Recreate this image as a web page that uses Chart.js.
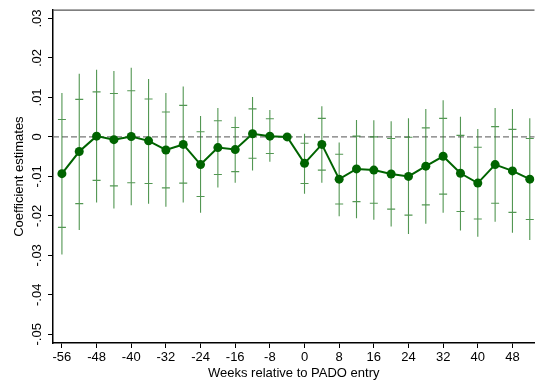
<!DOCTYPE html>
<html>
<head>
<meta charset="utf-8">
<script src="https://cdn.jsdelivr.net/npm/chart.js@4/dist/chart.umd.min.js"></script>
<style>
  html, body { margin: 0; padding: 0; background: #fff; }
  #wrap { width: 539px; height: 388px; }
</style>
</head>
<body>
<div id="wrap"><canvas id="coefChart"></canvas></div>
<script>
// --- data ---
const weeks = [-56, -52, -48, -44, -40, -36, -32, -28, -24, -20, -16, -12, -8, -4,
               0, 4, 8, 12, 16, 20, 24, 28, 32, 36, 40, 44, 48, 52];
const coef  = [-0.0093, -0.0037, 0.0002, -0.0007, 0.0001, -0.001, -0.0033, -0.0019, -0.007, -0.0027,
               -0.0032, 0.0008, 0.0002, 0, -0.0067, -0.0019, -0.0107, -0.0081, -0.0084, -0.0094,
               -0.01, -0.0074, -0.0049, -0.0092, -0.0117, -0.007, -0.0086, -0.0107];
const hi95  = [0.0111, 0.016, 0.017, 0.0167, 0.0175, 0.0147, 0.0111, 0.0128, 0.0053, 0.0073,
               0.0051, 0.0101, 0.0068, null, 0.0008, 0.0078, -0.0014, 0.0043, 0.0042, 0.004,
               0.0047, 0.0071, 0.0093, 0.0051, 0.002, 0.0073, 0.0071, 0.0047];
const hi90  = [0.0044, 0.0095, 0.0114, 0.011, 0.0117, 0.0096, 0.0063, 0.008, 0.0013, 0.0041,
               0.0024, 0.0071, 0.0046, null, -0.0016, 0.0047, -0.0044, 0.0002, 0, -0.0004,
               -0.0001, 0.0023, 0.0047, 0.0004, -0.0026, 0.0026, 0.0019, -0.0004];
const lo90  = [-0.0229, -0.0169, -0.011, -0.0124, -0.0116, -0.0118, -0.0129, -0.0117, -0.0151, -0.0095,
               -0.0088, -0.0054, -0.0042, null, -0.0118, -0.0084, -0.017, -0.0164, -0.0168, -0.0183,
               -0.0198, -0.0172, -0.0145, -0.0189, -0.0208, -0.0168, -0.0191, -0.0209];
const lo95  = [-0.0298, -0.0236, -0.0166, -0.0181, -0.0173, -0.0169, -0.0177, -0.0166, -0.0192, -0.0128,
               -0.0116, -0.0085, -0.0063, null, -0.0144, -0.0116, -0.0201, -0.0206, -0.021, -0.0227,
               -0.0246, -0.022, -0.0192, -0.0237, -0.0253, -0.0215, -0.0243, -0.0261];

const xTicks = [-56, -48, -40, -32, -24, -16, -8, 0, 8, 16, 24, 32, 40, 48];
const yTicks = [0.03, 0.02, 0.01, 0, -0.01, -0.02, -0.03, -0.04, -0.05];
const yTickLabels = [".03", ".02", ".01", "0", "-.01", "-.02", "-.03", "-.04", "-.05"];

const FONT = "'Liberation Sans', Arial, Helvetica, sans-serif";
const GREEN = "#006400";
const CI_GREEN = "rgba(40,125,40,0.8)";

// error bars, zero line, top frame and rotated y labels
const decorations = {
    id: "decorations",
    beforeDatasetsDraw(chart) {
        const { ctx, chartArea, scales: { x, y } } = chart;

        // dashed reference line at 0
        ctx.save();
        ctx.strokeStyle = "#777";
        ctx.lineWidth = 1.2;
        ctx.setLineDash([6, 3]);
        ctx.beginPath();
        ctx.moveTo(chartArea.left, y.getPixelForValue(0));
        ctx.lineTo(chartArea.right, y.getPixelForValue(0));
        ctx.stroke();
        ctx.restore();

        // confidence intervals
        ctx.save();
        ctx.strokeStyle = CI_GREEN;
        ctx.lineWidth = 1.1;
        weeks.forEach((w, i) => {
            if (hi95[i] === null) return;
            const px = x.getPixelForValue(w);
            ctx.beginPath();
            ctx.moveTo(px, y.getPixelForValue(hi95[i]));
            ctx.lineTo(px, y.getPixelForValue(lo95[i]));
            [hi90[i], lo90[i]].forEach(v => {
                const py = y.getPixelForValue(v);
                ctx.moveTo(px - 4, py);
                ctx.lineTo(px + 4, py);
            });
            ctx.stroke();
        });
        ctx.restore();
    },
    afterDraw(chart) {
        const { ctx, chartArea, scales: { y } } = chart;

        // top frame line
        ctx.save();
        ctx.strokeStyle = "#555";
        ctx.lineWidth = 1.2;
        ctx.beginPath();
        ctx.moveTo(chartArea.left, chartArea.top);
        ctx.lineTo(chartArea.right, chartArea.top);
        ctx.stroke();

        // vertical y tick labels (Stata style)
        ctx.fillStyle = "#000";
        ctx.font = "13px " + FONT;
        ctx.textAlign = "center";
        ctx.textBaseline = "middle";
        yTicks.forEach((v, i) => {
            ctx.save();
            ctx.translate(37, y.getPixelForValue(v));
            ctx.rotate(-Math.PI / 2);
            ctx.fillText(yTickLabels[i], 0, 0);
            ctx.restore();
        });
        ctx.restore();
    }
};

new Chart(document.getElementById("coefChart"), {
    type: "line",
    data: {
        datasets: [{
            label: "Coefficient",
            data: weeks.map((w, i) => ({ x: w, y: coef[i] })),
            borderColor: GREEN,
            backgroundColor: GREEN,
            borderWidth: 2,
            pointRadius: 4.5,
            pointBorderWidth: 0,
            pointBackgroundColor: GREEN,
            tension: 0
        }]
    },
    options: {
        responsive: true,
        maintainAspectRatio: false,
        animation: false,
        layout: { padding: { top: 6, right: 0, left: 0, bottom: 0 } },
        plugins: { legend: { display: false }, tooltip: { enabled: false } },
        scales: {
            x: {
                type: "linear",
                min: -58.06,
                max: 53.09,
                afterBuildTicks: scale => { scale.ticks = xTicks.map(v => ({ value: v })); },
                afterFit: scale => { scale.height = 45; },
                grid: { drawOnChartArea: false, tickLength: 5, tickColor: "#000", tickWidth: 1 },
                border: { color: "#000", width: 1.5 },
                ticks: {
                    color: "#000",
                    font: { family: FONT, size: 13 },
                    maxRotation: 0,
                    autoSkip: false,
                    padding: 2,
                    callback: v => String(v)
                },
                title: {
                    display: true,
                    text: "Weeks relative to PADO entry",
                    color: "#000",
                    font: { family: FONT, size: 13 },
                    padding: { top: 0, bottom: 7 }
                }
            },
            y: {
                min: -0.0522,
                max: 0.0321,
                afterBuildTicks: scale => { scale.ticks = yTicks.map(v => ({ value: v })); },
                afterFit: scale => { scale.width = 53; },
                grid: { drawOnChartArea: false, tickLength: 5, tickColor: "#000", tickWidth: 1 },
                border: { color: "#000", width: 1.5 },
                ticks: { callback: () => "" },
                title: {
                    display: true,
                    text: "Coefficient estimates",
                    color: "#000",
                    font: { family: FONT, size: 13 },
                    padding: { top: 12, bottom: 0 }
                }
            }
        }
    },
    plugins: [decorations]
});
</script>
</body>
</html>
